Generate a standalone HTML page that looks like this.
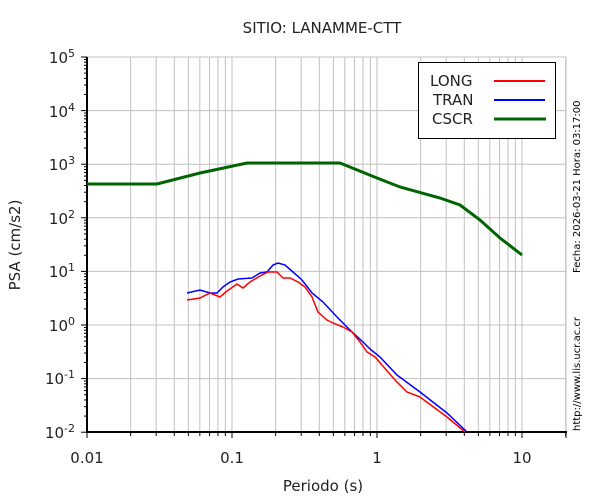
<!DOCTYPE html>
<html><head><meta charset="utf-8"><style>body{margin:0;background:#fff}svg{display:block;font-family:"DejaVu Sans","Liberation Sans",sans-serif}</style></head>
<body>
<svg id="s" width="600" height="500" xmlns="http://www.w3.org/2000/svg">
<g id="grid" stroke="#c0c0c0" stroke-width="1"></g>
<g id="ticks" stroke="#000" stroke-width="1"></g>
<line x1="87" y1="57" x2="87" y2="433" stroke="#000" stroke-width="2"/>
<line x1="86" y1="432" x2="567" y2="432" stroke="#000" stroke-width="2"/>
<text x="322" y="33" font-size="15" text-anchor="middle" fill="#222">SITIO: LANAMME-CTT</text>
<g font-size="15" fill="#222" text-anchor="end">
<text x="75" y="63">10<tspan font-size="11" dy="-6">5</tspan></text>
<text x="75" y="117">10<tspan font-size="11" dy="-6">4</tspan></text>
<text x="75" y="170">10<tspan font-size="11" dy="-6">3</tspan></text>
<text x="75" y="224">10<tspan font-size="11" dy="-6">2</tspan></text>
<text x="75" y="277">10<tspan font-size="11" dy="-6">1</tspan></text>
<text x="75" y="331">10<tspan font-size="11" dy="-6">0</tspan></text>
<text x="75" y="384">10<tspan font-size="11" dy="-6">-1</tspan></text>
<text x="75" y="438">10<tspan font-size="11" dy="-6">-2</tspan></text>
</g>
<g font-size="15" fill="#222" text-anchor="middle">
<text x="87" y="463">0.01</text><text x="232" y="463">0.1</text><text x="377" y="463">1</text><text x="522" y="463">10</text>
<text x="323" y="491">Periodo (s)</text>
<text transform="translate(20,245) rotate(-90)">PSA (cm/s2)</text>
</g>
<g font-size="10" fill="#000">
<text transform="translate(580,273) rotate(-90)">Fecha: 2026-03-21  Hora: 03:17:00</text>
<text transform="translate(580,431) rotate(-90)">http://www.lis.ucr.ac.cr</text>
</g>
<polyline fill="none" stroke="#006400" stroke-width="3" points="87,184 157,184 200,173 247,163 340,163 377,178 400,187 440,198 460,205 480,220 500,238 522,255"/>
<polyline fill="none" stroke="#0000ff" stroke-width="1.5" points="187,293 200,290 210,293 217,293 223,287 230,282 238,279 252,278 260,273 267,272 273,265 278,263 285,265 293,272 302,280 312,293 323,302 337,317 350,330 363,342 370,349 380,357 397,375 420,392 447,413 467,432"/>
<polyline fill="none" stroke="#ff0000" stroke-width="1.5" points="187,300 200,298 210,293 220,297 227,291 237,284 243,288 250,282 260,276 268,272 277,272 283,278 290,278 298,282 305,287 312,297 318,312 327,320 333,323 343,327 352,332 360,342 367,352 375,357 395,380 407,392 420,397 447,417 465,432"/>
<rect x="418.5" y="62.5" width="137" height="76" fill="#fff" stroke="#000"/>
<g font-size="15" fill="#222"><text x="430" y="86">LONG</text><text x="433" y="105">TRAN</text><text x="432" y="124">CSCR</text></g>
<line x1="494" y1="81" x2="545" y2="81" stroke="#f00" stroke-width="2"/>
<line x1="494" y1="100" x2="545" y2="100" stroke="#00f" stroke-width="2"/>
<line x1="494" y1="119" x2="546" y2="119" stroke="#006400" stroke-width="3"/>
</svg>
<script>
var g=document.getElementById('grid'),t=document.getElementById('ticks'),ns='http://www.w3.org/2000/svg';
function L(p,a,b,c,d){var l=document.createElementNS(ns,'line');l.setAttribute('x1',a);l.setAttribute('y1',b);l.setAttribute('x2',c);l.setAttribute('y2',d);p.appendChild(l);}
for(var e=-2;e<=1;e++)for(var m=1;m<=9;m++){var v=m*Math.pow(10,e);if(v>20)break;var x=87+145*(Math.log10(v)+2);if(x>87.5)L(g,x,57,x,432);L(t,x,432,x,m==1?438:436);}
L(g,566,57,566,432);L(t,566,432,566,438);
for(var e=-2;e<=5;e++){var y=57+53.6*(5-e);if(y<431)L(g,87,y,566,y);L(t,81,y,87,y);if(e<5)for(var m=2;m<=9;m++){var yy=57+53.6*(5-e-Math.log10(m));L(t,84,yy,87,yy);}}
</script>
</body></html>
